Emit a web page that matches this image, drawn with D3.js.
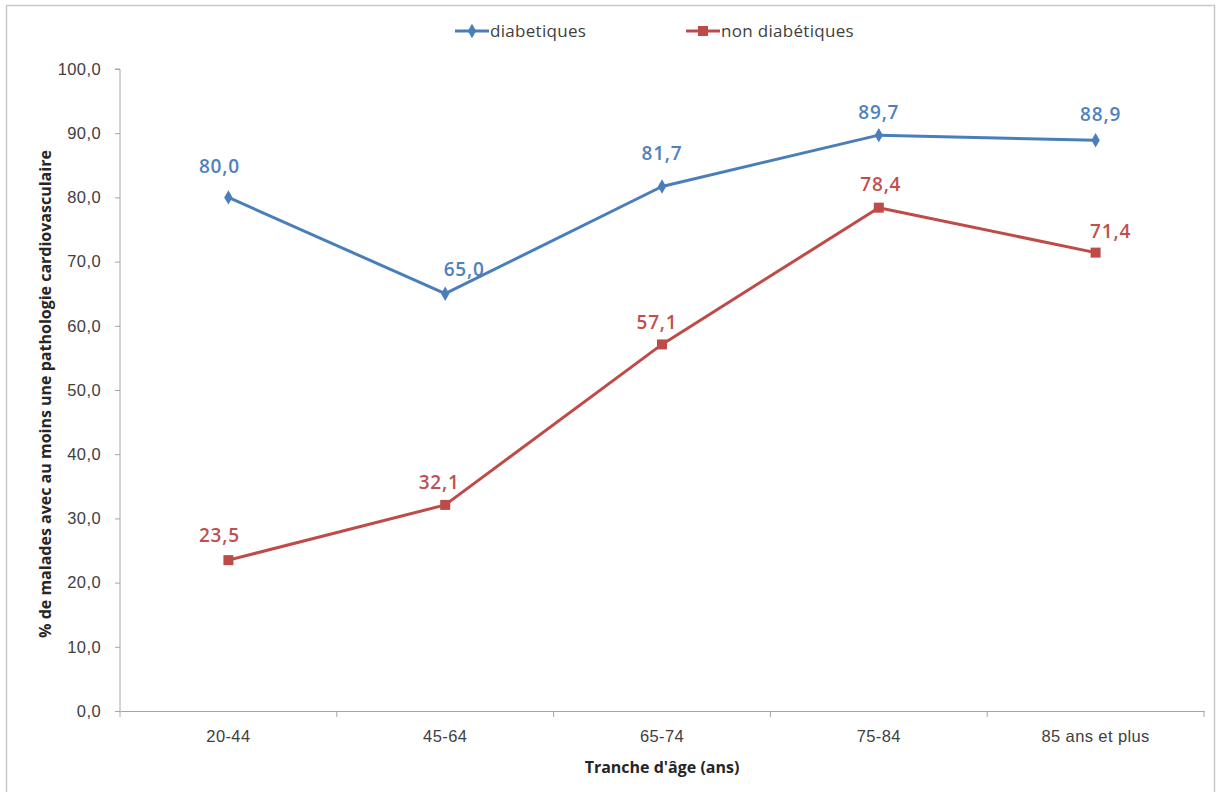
<!DOCTYPE html>
<html>
<head>
<meta charset="utf-8">
<script src="https://cdn.jsdelivr.net/npm/d3@7"></script>
<style>
  html, body { margin: 0; padding: 0; background: #fff; }
  svg { display: block; font-family: "Open Sans", "Liberation Sans", sans-serif; }
</style>
</head>
<body>
<svg id="chart" width="1220" height="792"></svg>
<script>
// Age groups and the share of patients with at least one cardiovascular condition
const categories = ["20-44", "45-64", "65-74", "75-84", "85 ans et plus"];
const diabetiques = [80.0, 65.0, 81.7, 89.7, 88.9];
const nonDiabetiques = [23.5, 32.1, 57.1, 78.4, 71.4];
const yTicks = [0, 10, 20, 30, 40, 50, 60, 70, 80, 90, 100];
const seriesNames = ["diabetiques", "non diabétiques"];

const W = 1220, H = 792;
const margin = { left: 120, right: 16, top: 69, bottom: 81 };
const svg = d3.select("#chart");

// chart frame
svg.append("rect")
  .attr("x", 6.5).attr("y", 5.5).attr("width", W - 12).attr("height", H)
  .attr("fill", "#fff").attr("stroke", "#c8c8c8").attr("stroke-width", 1.5);

const x = d3.scaleBand().domain(categories)
  .range([margin.left, W - margin.right]).padding(0);
const y = d3.scaleLinear().domain([0, 100])
  .range([H - margin.bottom, margin.top]);

const fmt = v => d3.format(".1f")(v).replace(".", ",");

// y axis
const yAxis = svg.append("g")
  .attr("transform", `translate(${margin.left},0)`)
  .call(d3.axisLeft(y).tickValues(yTicks).tickFormat(fmt).tickSize(5).tickPadding(14));
yAxis.select(".domain").attr("stroke", "#a6a6a6").attr("d", `M-5,${y(100)}H0V${y(0)}`);
yAxis.selectAll(".tick line").attr("stroke", "#a6a6a6");
yAxis.selectAll(".tick text").attr("fill", "#404040")
  .style("font-size", "16.5px").style("letter-spacing", "0.4px");

// x axis
const xAxis = svg.append("g")
  .attr("transform", `translate(0,${y(0)})`)
  .call(d3.axisBottom(x).tickSize(0).tickPadding(19));
xAxis.select(".domain").attr("stroke", "#a6a6a6");
xAxis.selectAll(".tick text").attr("fill", "#404040")
  .style("font-size", "16.5px").style("letter-spacing", "0.4px");
// category separators
svg.append("g").selectAll("line")
  .data(categories.concat([null]))
  .join("line")
  .attr("x1", (d, i) => margin.left + i * x.bandwidth())
  .attr("x2", (d, i) => margin.left + i * x.bandwidth())
  .attr("y1", y(0)).attr("y2", y(0) + 6)
  .attr("stroke", "#a6a6a6");

// axis titles
svg.append("text")
  .attr("x", 662)
  .attr("y", 773)
  .attr("text-anchor", "middle")
  .attr("fill", "#262626")
  .style("font-size", "16px").style("font-weight", "bold")
  .text("Tranche d'âge (ans)");

svg.append("text")
  .attr("transform", `translate(51,${(y(0) + y(100)) / 2 + 4}) rotate(-90)`)
  .attr("text-anchor", "middle")
  .attr("fill", "#262626")
  .style("font-size", "16px").style("font-weight", "bold")
  .text("% de malades avec au moins une pathologie cardiovasculaire");

const cx = c => x(c) + x.bandwidth() / 2;
const series = [
  { name: seriesNames[0], values: diabetiques, color: "#4a7ebb", label: "#4f81bd", marker: "diamond",
    dx: [-9, 19, 0, 0, 5], dy: [24, 18, 26, 16, 19] },
  { name: seriesNames[1], values: nonDiabetiques, color: "#be4b48", label: "#c0504d", marker: "square",
    dx: [-9, -6, -5, 2, 15], dy: [18, 16, 15, 17, 15] }
];

const line = d3.line().x((d, i) => cx(categories[i])).y(d => y(d));

function drawMarker(g, type, color) {
  if (type === "diamond") {
    g.append("path").attr("d", d3.symbol(d3.symbolDiamond, 60)()).attr("fill", color);
  } else {
    g.append("rect").attr("x", -5).attr("y", -5).attr("width", 10).attr("height", 10).attr("fill", color);
  }
}

series.forEach(s => {
  svg.append("path")
    .datum(s.values)
    .attr("d", line)
    .attr("fill", "none")
    .attr("stroke", s.color)
    .attr("stroke-width", 3)
    .attr("stroke-linejoin", "round");

  s.values.forEach((v, i) => {
    const g = svg.append("g").attr("transform", `translate(${cx(categories[i])},${y(v)})`);
    drawMarker(g, s.marker, s.color);
  });

  svg.append("g").selectAll("text")
    .data(s.values)
    .join("text")
    .attr("x", (d, i) => cx(categories[i]) + s.dx[i])
    .attr("y", (d, i) => y(d) - s.dy[i])
    .attr("text-anchor", "middle")
    .attr("fill", s.label)
    .style("font-size", "19px").style("font-weight", "600").style("letter-spacing", "0.8px")
    .text(d => fmt(d));
});

// legend
const legend = svg.append("g");
const legendItems = [
  { x: 455, s: series[0] },
  { x: 686, s: series[1] }
];
legendItems.forEach(it => {
  const g = legend.append("g").attr("transform", `translate(${it.x},31)`);
  g.append("line").attr("x1", 0).attr("x2", 34).attr("y1", 0).attr("y2", 0)
    .attr("stroke", it.s.color).attr("stroke-width", 3);
  const m = g.append("g").attr("transform", "translate(17,0)");
  drawMarker(m, it.s.marker, it.s.color);
  g.append("text").attr("x", 35).attr("y", 6)
    .attr("fill", "#404040").style("font-size", "17px").style("letter-spacing", "0.3px")
    .text(it.s.name);
});
</script>
</body>
</html>
